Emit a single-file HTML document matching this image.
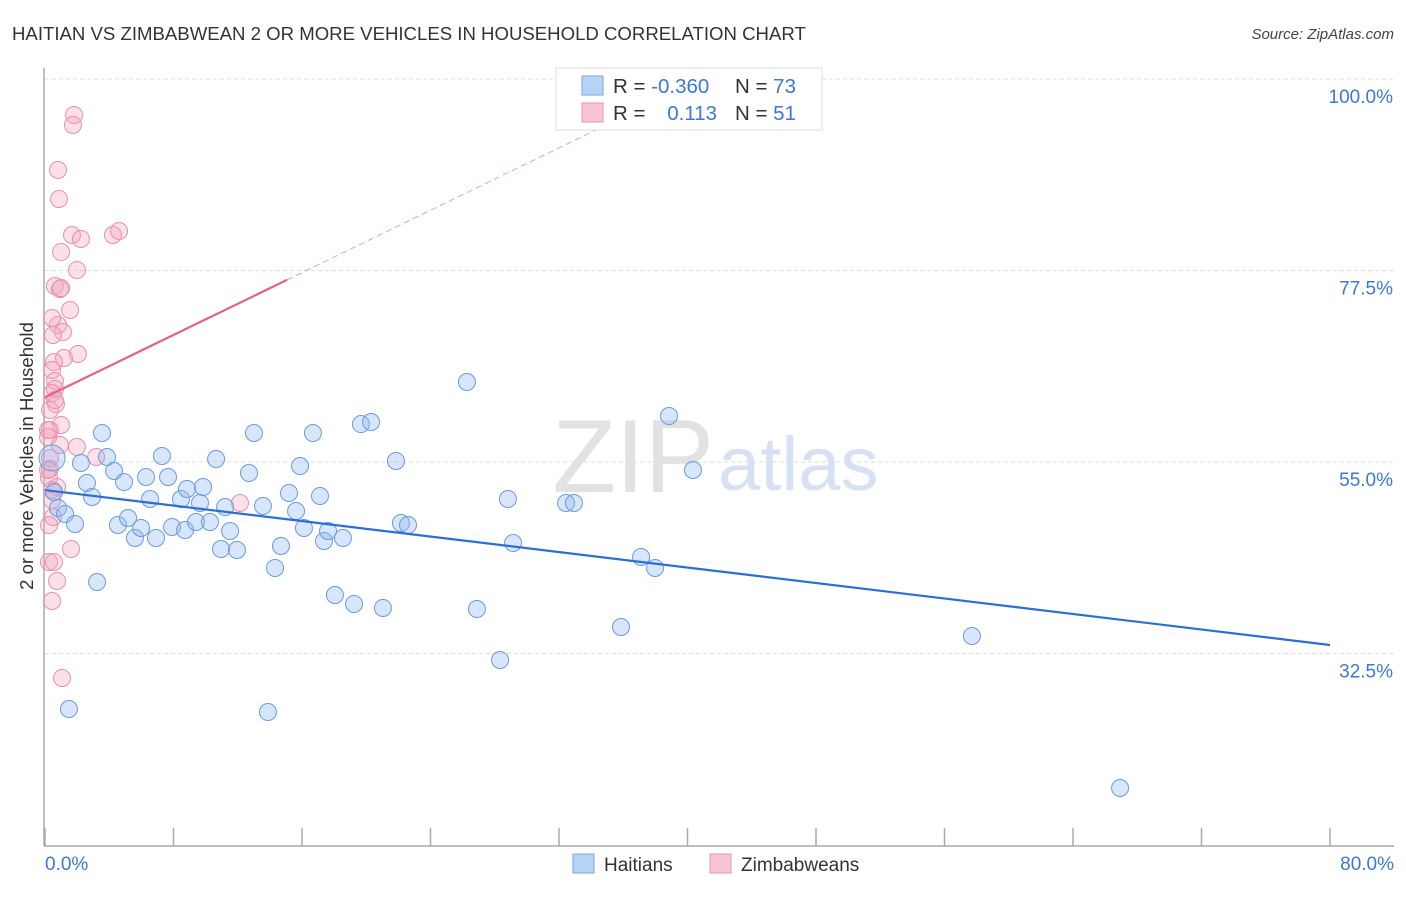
<!DOCTYPE html>
<html><head><meta charset="utf-8"><style>
body{margin:0;background:#fff;font-family:"Liberation Sans",sans-serif}
svg text{font-family:"Liberation Sans",sans-serif}
</style></head><body>
<svg id="chart" width="1406" height="892" xmlns="http://www.w3.org/2000/svg">
<text x="12" y="40" font-size="18.6" fill="#333">HAITIAN VS ZIMBABWEAN 2 OR MORE VEHICLES IN HOUSEHOLD CORRELATION CHART</text>
<text x="1394" y="39" font-size="15" fill="#444" font-style="italic" text-anchor="end">Source: ZipAtlas.com</text>
<text x="714" y="492" font-size="104" fill="#e2e2e2" font-family="Liberation Serif" text-anchor="end">ZIP</text>
<text x="718" y="490" font-size="76" fill="#d6e2f4">atlas</text>
<g id="grid"></g>
<line x1="44" y1="68" x2="44" y2="846" stroke="#aaa" stroke-width="1.5"/>
<line x1="44" y1="846" x2="1394" y2="846" stroke="#aaa" stroke-width="1.5"/>
<g id="ticks"></g>
<text x="28" y="456" font-size="18.6" fill="#333" text-anchor="middle" dominant-baseline="middle" transform="rotate(-90 28 456)">2 or more Vehicles in Household</text>
<text x="45" y="870" font-size="19" fill="#3b78d8">0.0%</text>
<text x="1394" y="870" font-size="19" fill="#3b78d8" text-anchor="end">80.0%</text>
<g id="pink"></g><g id="blue"></g><g id="lines"></g>
<g>
<rect x="556" y="68" width="266" height="62" fill="#fff" stroke="#ddd"/>
<rect x="582" y="76" width="21" height="19" fill="#b8d2f5" stroke="#7aa6e6"/>
<rect x="582" y="103" width="21" height="19" fill="#f9c5d4" stroke="#e894ae"/>
<text x="613" y="93" font-size="20.5" fill="#333">R = <tspan fill="#3b78d8">-0.360</tspan></text>
<text x="735" y="93" font-size="20.5" fill="#333">N = <tspan fill="#3b78d8">73</tspan></text>
<text x="613" y="120" font-size="20.5" fill="#333">R =</text>
<text x="717" y="120" font-size="20.5" fill="#3b78d8" text-anchor="end">0.113</text>
<text x="735" y="120" font-size="20.5" fill="#333">N = <tspan fill="#3b78d8"> 51</tspan></text>
</g>
<g>
<rect x="573" y="854" width="21" height="19" fill="#b8d2f5" stroke="#7aa6e6"/>
<text x="604" y="871" font-size="19" fill="#333">Haitians</text>
<rect x="710" y="854" width="21" height="19" fill="#f9c5d4" stroke="#e894ae"/>
<text x="741" y="871" font-size="19" fill="#333">Zimbabweans</text>
</g>
</svg>
<script>
const yTicks=[100,77.5,55,32.5];
const yTickLabels=["100.0%","77.5%","55.0%","32.5%"];
const xTickVals=[0,8,16,24,32,40,48,56,64,72,80];
const bluePx=[[52,458],[54,492],[58,508],[65,514],[75,524],[69,709],[81,463],[87,483],[92,497],[97,582],[102,433],[107,457],[114,471],[118,525],[124,482],[128,518],[135,538],[141,528],[146,477],[150,499],[156,538],[162,456],[168,477],[172,527],[181,499],[185,530],[187,489],[196,522],[200,503],[203,487],[210,522],[216,459],[221,549],[225,507],[230,531],[237,550],[249,473],[254,433],[263,506],[268,712],[275,568],[281,546],[289,493],[296,511],[300,466],[304,528],[313,433],[320,496],[324,541],[328,531],[335,595],[343,538],[354,604],[361,424],[371,422],[383,608],[396,461],[401,523],[408,525],[467,382],[477,609],[500,660],[508,499],[513,543],[566,503],[574,503],[621,627],[641,557],[655,568],[669,416],[693,470],[972,636],[1120,788]];
const pinkPx=[[74,115],[73,125],[58,170],[59,199],[72,235],[81,239],[113,235],[119,231],[61,252],[77,270],[55,286],[60,289],[61,288],[70,310],[58,325],[52,318],[63,332],[53,335],[78,354],[64,358],[54,362],[52,370],[55,381],[55,389],[52,393],[56,404],[50,430],[61,425],[48,437],[50,458],[96,457],[77,447],[50,469],[49,478],[57,487],[52,500],[240,503],[53,517],[71,549],[49,562],[54,562],[57,581],[52,601],[62,678],[48,430],[50,410],[55,400],[60,445],[48,470],[52,490],[49,525]];
// data values (x %, y %)
const blueX=bluePx.map(p=>+((p[0]-45)*80/1285).toFixed(2));
const blueY=bluePx.map(p=>+(55+(462-p[1])*22.5/191.5).toFixed(2));
const pinkX=pinkPx.map(p=>+((p[0]-45)*80/1285).toFixed(2));
const pinkY=pinkPx.map(p=>+(55+(462-p[1])*22.5/191.5).toFixed(2));
const blueTrend=[51.7,33.5];
const pinkTrend=[62.6,76.4];
const pinkSolidEnd=15.07, pinkDashEnd=36;
const NS="http://www.w3.org/2000/svg";
const sx=v=>45+v*1285/80;
const sy=v=>462-(v-55)*191.5/22.5;
function mk(t,a,p){const e=document.createElementNS(NS,t);for(const k in a)e.setAttribute(k,a[k]);document.getElementById(p).appendChild(e);return e;}
yTicks.forEach((v,i)=>{
const l=mk('line',{x1:45,x2:1394,y1:sy(v),y2:sy(v),stroke:'#ddd','stroke-dasharray':'4,3'},'grid');


const t=mk('text',{x:1393,y:sy(v)+24,'font-size':19,fill:'#3b78d8','text-anchor':'end'},'grid');
t.textContent=yTickLabels[i];


});
xTickVals.forEach(v=>{
const l=mk('line',{x1:sx(v),x2:sx(v),y1:828,y2:846,stroke:'#aaa','stroke-width':1.5},'ticks');


});
pinkX.forEach((x,i)=>{
const c=mk('circle',{cx:sx(x),cy:sy(pinkY[i]),r:8.5,fill:'rgba(244,165,192,0.35)',stroke:'#e890ab','stroke-width':1},'pink');


});
blueX.forEach((x,i)=>{
const c=mk('circle',{cx:sx(x),cy:sy(blueY[i]),r:i==0?13:8.5,fill:'rgba(140,182,240,0.35)',stroke:'#6a9be0','stroke-width':1},'blue');


});
const pk=x=>pinkTrend[0]+(pinkTrend[1]-pinkTrend[0])*x/pinkSolidEnd;
let l1=mk('line',{x1:sx(0),y1:sy(blueTrend[0]),x2:sx(80),y2:sy(blueTrend[1]),stroke:'#2b6fd6','stroke-width':2.2},'lines');


let l2=mk('line',{x1:sx(0),y1:sy(pk(0)),x2:sx(pinkSolidEnd),y2:sy(pk(pinkSolidEnd)),stroke:'#e5608a','stroke-width':2.2},'lines');


let l3=mk('line',{x1:sx(pinkSolidEnd),y1:sy(pk(pinkSolidEnd)),x2:sx(pinkDashEnd),y2:sy(pk(pinkDashEnd)),stroke:'#eaa0b8','stroke-width':1,'stroke-dasharray':'6,4'},'lines');


</script>
</body></html>
